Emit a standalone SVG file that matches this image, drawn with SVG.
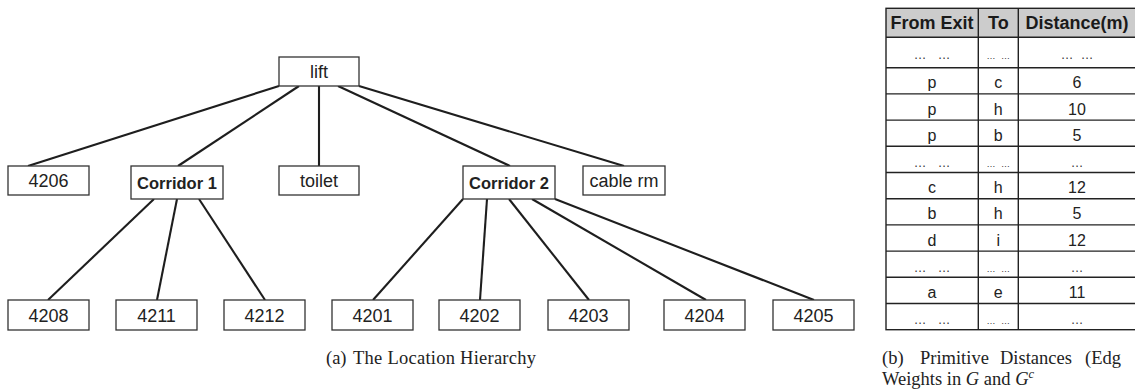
<svg xmlns="http://www.w3.org/2000/svg" width="1135" height="392" viewBox="0 0 1135 392">
  <style>
    .box { fill: #ffffff; stroke: #333333; stroke-width: 1.3; }
    .lbl { font-family: "Liberation Sans", Arial, sans-serif; font-size: 18px; fill: #222222; text-anchor: middle; }
    .bold { font-weight: bold; font-size: 16.5px; }
    .edge { stroke: #1e1e1e; stroke-width: 2.1; fill: none; stroke-linecap: butt; }
    .grid { stroke: #222222; stroke-width: 1.4; fill: none; }
    .hdr { font-family: "Liberation Sans", Arial, sans-serif; font-weight: bold; font-size: 18px; fill: #1a1a1a; text-anchor: middle; }
    .cell { font-family: "Liberation Sans", Arial, sans-serif; font-size: 16px; fill: #222222; text-anchor: middle; }
    .dots { font-family: "Liberation Sans", Arial, sans-serif; font-size: 12.6px; fill: #333333; text-anchor: middle; word-spacing: 8px; }
    .dots3 { word-spacing: 4px; }
    .sdots { font-family: "Liberation Sans", Arial, sans-serif; font-size: 9px; fill: #333333; text-anchor: middle; word-spacing: 3px; }
    .cap { font-family: "Liberation Serif", "Times New Roman", serif; font-size: 18.5px; fill: #222222; }
  </style>

  <!-- hierarchy edges -->
  <g id="connectors">
    <line class="edge" x1="279" y1="86" x2="28" y2="166"/>
    <line class="edge" x1="299" y1="86" x2="178" y2="166"/>
    <line class="edge" x1="319" y1="86" x2="319" y2="166"/>
    <line class="edge" x1="338" y1="86" x2="510" y2="166"/>
    <line class="edge" x1="359" y1="86" x2="624" y2="166"/>
    <line class="edge" x1="154" y1="199" x2="48" y2="300"/>
    <line class="edge" x1="177" y1="199" x2="157" y2="300"/>
    <line class="edge" x1="199" y1="199" x2="265" y2="300"/>
    <line class="edge" x1="463" y1="199" x2="373" y2="300"/>
    <line class="edge" x1="487" y1="199" x2="480" y2="300"/>
    <line class="edge" x1="509" y1="199" x2="589" y2="300"/>
    <line class="edge" x1="532" y1="199" x2="706" y2="300"/>
    <line class="edge" x1="555" y1="199" x2="814" y2="300"/>
  </g>

  <!-- top level -->
  <g id="lift"><rect class="box" x="279" y="57" width="80" height="29"/><text class="lbl" x="319" y="78">lift</text></g>

  <!-- second level -->
  <g id="n4206"><rect class="box" x="8" y="166" width="81" height="29"/><text class="lbl" x="48.5" y="187">4206</text></g>
  <g id="corridor1"><rect class="box" x="131" y="166" width="92" height="33"/><text class="lbl bold" x="177" y="188.5">Corridor 1</text></g>
  <g id="toilet"><rect class="box" x="279" y="166" width="80" height="29"/><text class="lbl" x="319" y="187">toilet</text></g>
  <g id="corridor2"><rect class="box" x="463" y="166" width="92" height="33"/><text class="lbl bold" x="509" y="188.5">Corridor 2</text></g>
  <g id="cablerm"><rect class="box" x="583" y="166" width="82" height="29"/><text class="lbl" x="624" y="187">cable rm</text></g>

  <!-- rooms -->
  <g id="n4208"><rect class="box" x="8" y="300" width="81" height="30"/><text class="lbl" x="48.5" y="321.5">4208</text></g>
  <g id="n4211"><rect class="box" x="116" y="300" width="81" height="30"/><text class="lbl" x="156.5" y="321.5">4211</text></g>
  <g id="n4212"><rect class="box" x="224" y="300" width="81" height="30"/><text class="lbl" x="264.5" y="321.5">4212</text></g>
  <g id="n4201"><rect class="box" x="332" y="300" width="81" height="30"/><text class="lbl" x="372.5" y="321.5">4201</text></g>
  <g id="n4202"><rect class="box" x="439" y="300" width="81" height="30"/><text class="lbl" x="479.5" y="321.5">4202</text></g>
  <g id="n4203"><rect class="box" x="548" y="300" width="81" height="30"/><text class="lbl" x="588.5" y="321.5">4203</text></g>
  <g id="n4204"><rect class="box" x="664" y="300" width="81" height="30"/><text class="lbl" x="704.5" y="321.5">4204</text></g>
  <g id="n4205"><rect class="box" x="773" y="300" width="81" height="30"/><text class="lbl" x="813.5" y="321.5">4205</text></g>

  <!-- sub-caption (a) -->
  <text class="cap" y="364"><tspan x="326">(a)</tspan><tspan x="353" textLength="183" lengthAdjust="spacing">The Location Hierarchy</tspan></text>

  <!-- distance table -->
  <g id="table">
    <rect x="886" y="8.3" width="252" height="29" fill="#cccccc"/>
    <rect class="grid" x="886" y="8.3" width="252" height="321.4"/>
    <line class="grid" x1="978.3" y1="8.3" x2="978.3" y2="329.7"/>
    <line class="grid" x1="1018.3" y1="8.3" x2="1018.3" y2="329.7"/>
    <line class="grid" x1="886" y1="37.3" x2="1138" y2="37.3"/>
    <line class="grid" x1="886" y1="67.7" x2="1138" y2="67.7"/>
    <line class="grid" x1="886" y1="93.9" x2="1138" y2="93.9"/>
    <line class="grid" x1="886" y1="120.1" x2="1138" y2="120.1"/>
    <line class="grid" x1="886" y1="146.3" x2="1138" y2="146.3"/>
    <line class="grid" x1="886" y1="172.5" x2="1138" y2="172.5"/>
    <line class="grid" x1="886" y1="198.7" x2="1138" y2="198.7"/>
    <line class="grid" x1="886" y1="224.9" x2="1138" y2="224.9"/>
    <line class="grid" x1="886" y1="251.1" x2="1138" y2="251.1"/>
    <line class="grid" x1="886" y1="277.3" x2="1138" y2="277.3"/>
    <line class="grid" x1="886" y1="303.5" x2="1138" y2="303.5"/>

    <text class="hdr" x="932" y="28.5">From Exit</text>
    <text class="hdr" x="998.3" y="28.5">To</text>
    <text class="hdr" x="1077" y="28.5">Distance(m)</text>

    <text class="dots" x="932" y="59">… …</text><text class="sdots" x="998.3" y="59">… …</text><text class="dots dots3" x="1077" y="59">… …</text>
    <text class="cell" x="932" y="88.3">p</text><text class="cell" x="998.3" y="88.3">c</text><text class="cell" x="1077" y="88.3">6</text>
    <text class="cell" x="932" y="114.5">p</text><text class="cell" x="998.3" y="114.5">h</text><text class="cell" x="1077" y="114.5">10</text>
    <text class="cell" x="932" y="140.7">p</text><text class="cell" x="998.3" y="140.7">b</text><text class="cell" x="1077" y="140.7">5</text>
    <text class="dots" x="932" y="166.9">… …</text><text class="sdots" x="998.3" y="166.9">… …</text><text class="dots" x="1077" y="166.9">…</text>
    <text class="cell" x="932" y="193.1">c</text><text class="cell" x="998.3" y="193.1">h</text><text class="cell" x="1077" y="193.1">12</text>
    <text class="cell" x="932" y="219.3">b</text><text class="cell" x="998.3" y="219.3">h</text><text class="cell" x="1077" y="219.3">5</text>
    <text class="cell" x="932" y="245.5">d</text><text class="cell" x="998.3" y="245.5">i</text><text class="cell" x="1077" y="245.5">12</text>
    <text class="dots" x="932" y="271.7">… …</text><text class="sdots" x="998.3" y="271.7">… …</text><text class="dots" x="1077" y="271.7">…</text>
    <text class="cell" x="932" y="297.9">a</text><text class="cell" x="998.3" y="297.9">e</text><text class="cell" x="1077" y="297.9">11</text>
    <text class="dots" x="932" y="324.1">… …</text><text class="sdots" x="998.3" y="324.1">… …</text><text class="dots" x="1077" y="324.1">…</text>
  </g>

  <!-- sub-caption (b), justified over the table width -->
  <text class="cap" y="364"><tspan x="882">(b)</tspan><tspan x="920">Primitive</tspan><tspan x="1000">Distances</tspan><tspan x="1085">(Edg</tspan></text>
  <text class="cap" x="882" y="385">Weights in <tspan font-style="italic">G</tspan> and <tspan font-style="italic">G</tspan><tspan font-style="italic" font-size="12.5" dy="-7">c</tspan></text>
</svg>
